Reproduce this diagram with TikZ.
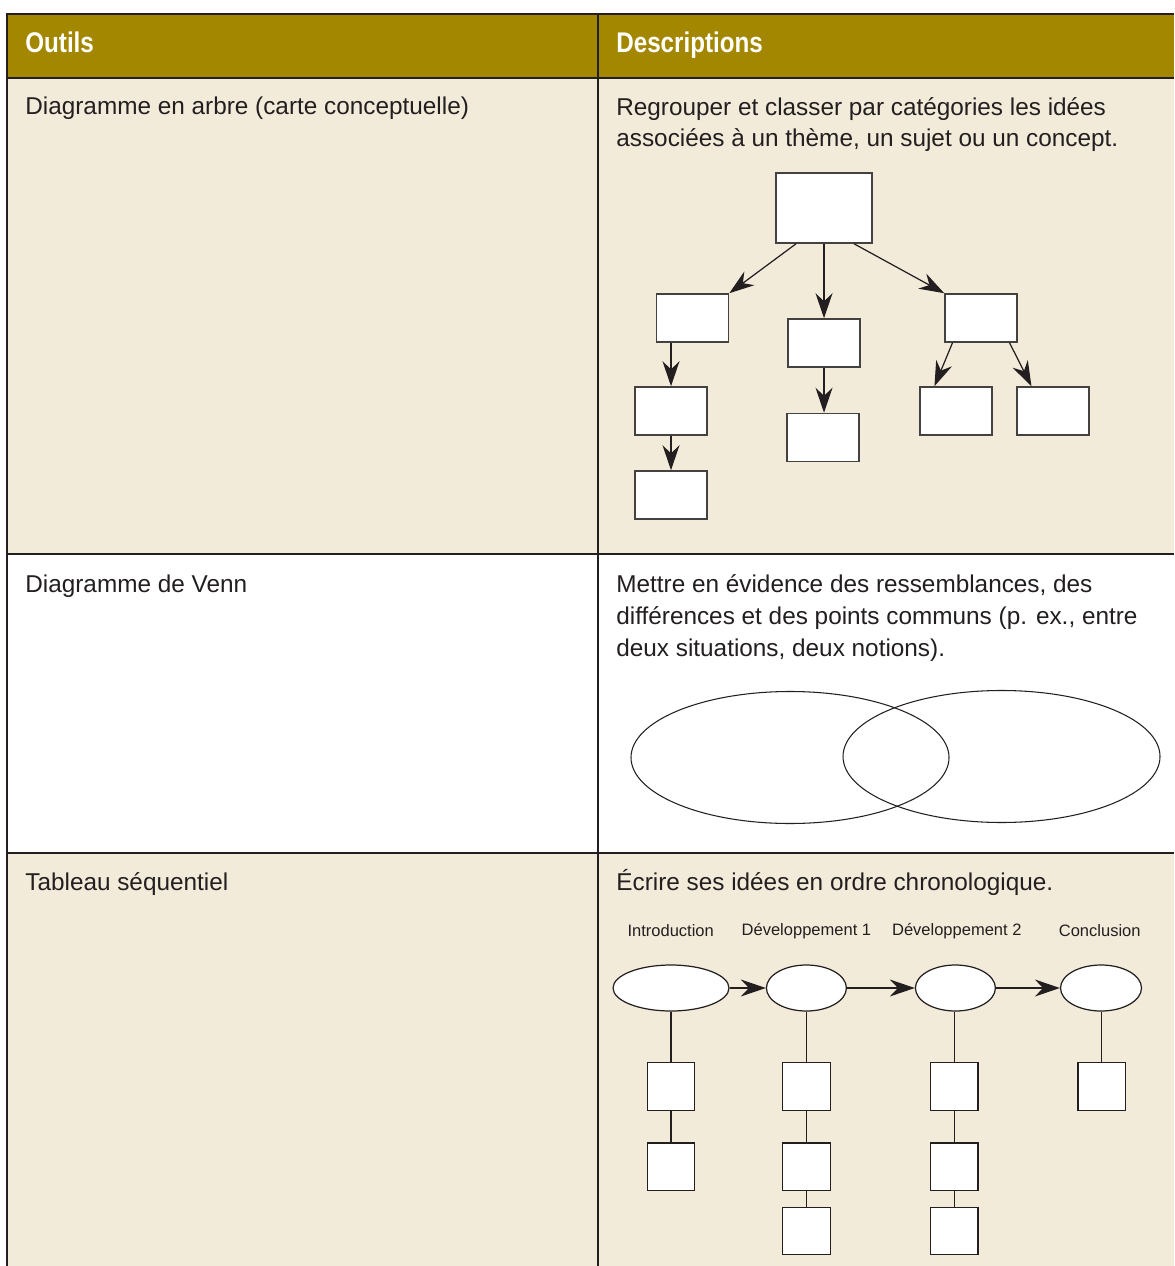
\documentclass[tikz,border=0pt]{standalone}
\usepackage{fontspec}
\setmainfont{Liberation Sans}
\newfontfamily\headfont{Liberation Sans}[FakeStretch=0.85]
\usetikzlibrary{arrows.meta,shapes.geometric,calc}
\definecolor{headgold}{RGB}{163,135,0}
\definecolor{rowbeige}{RGB}{243,235,218}
\definecolor{inkdark}{RGB}{35,31,32}
\tikzset{
  rowline/.style={draw=inkdark,line width=1.5pt},
  bodytext/.style={anchor=base west,inner sep=0pt,text=inkdark,align=left,font=\fontsize{13.85}{18.2}\selectfont},
  headtext/.style={anchor=base west,inner sep=0pt,text=white,font=\headfont\bfseries\fontsize{16.2}{19}\selectfont},
  treebox/.style={draw=inkdark!85,fill=white,line width=0.9pt,minimum width=1.44cm,minimum height=0.96cm,inner sep=0pt},
  seqbox/.style={draw=inkdark,fill=white,line width=0.7pt,minimum size=0.95cm,inner sep=0pt},
  seqoval/.style={ellipse,draw=inkdark,fill=white,line width=0.7pt,minimum height=0.92cm,minimum width=1.6cm,inner sep=0pt},
  seqlabel/.style={inner sep=0pt,text=inkdark,font=\fontsize{9.4}{11}\selectfont},
  arr/.style={-{Stealth[length=0.5cm,width=0.34cm]},draw=inkdark,line width=0.7pt},
}
\begin{document}
\begin{tikzpicture}[x=0.02cm,y=-0.02cm,line join=miter]
\fill[white] (0,0) rectangle (1174,1266);
\useasboundingbox (0,0) rectangle (1174,1266);
% table
\fill[headgold] (7,14) rectangle (1174,78);
\fill[rowbeige] (7,78) rectangle (1174,554);
\fill[rowbeige] (7,853) rectangle (1174,1266);
\draw[rowline] (1174,14) -- (7,14) -- (7,1266);
\draw[rowline] (598,14) -- (598,1266);
\foreach \y in {78,554,853}
  \draw[rowline] (7,\y) -- (1174,\y);

\node[headtext] (hout) at (25,53) {Outils};
\node[headtext] (hdesc) at (616,53) {Descriptions};

% base anchor = last line
\node[bodytext] (tarbre) at (25,115) {Diagramme en arbre (carte conceptuelle)};
\node[bodytext] (darbre) at (616,147) {Regrouper et classer par catégories les idées\\associées à un thème, un sujet ou un concept.};
\node[bodytext] (tvenn) at (25,592) {Diagramme de Venn};
\node[bodytext] (dvenn) at (616,656) {Mettre en évidence des ressemblances, des\\différences et des points communs (p. ex., entre\\deux situations, deux notions).};
\node[bodytext] (tseq) at (25,890) {Tableau séquentiel};
\node[bodytext] (dseq) at (616,890) {Écrire ses idées en ordre chronologique.};

% arbre
\node[treebox,minimum width=1.92cm,minimum height=1.4cm] (root) at (824,208) {};
\node[treebox] (l2a) at (692.5,318) {};
\node[treebox] (l2b) at (824,343) {};
\node[treebox] (l2c) at (981,318) {};
\node[treebox] (l3a) at (671,411) {};
\node[treebox] (l3b) at (823,437.5) {};
\node[treebox] (l3c) at (956,411) {};
\node[treebox] (l3d) at (1053,411) {};
\node[treebox] (l4a) at (671,495) {};
\draw[arr] (root.232) -- (l2a.north east);
\draw[arr] (root.south) -- (l2b.north);
\draw[arr] (root.310) -- (l2c.north west);
\draw[arr] (l2a.south -| l3a) -- (l3a.north);
\draw[arr] (l2b.south) -- (l2b.south |- l3b.north);
\draw[arr] (l2c.221) -- (l3c.131);
\draw[arr] (l2c.319) -- (l3d.131);
\draw[arr] (l3a.south) -- (l4a.north);

% Venn
\draw[inkdark,line width=0.6pt] (790,757.5) ellipse [x radius=159,y radius=66];
\draw[inkdark,line width=0.6pt] (1001.5,756.5) ellipse [x radius=158.5,y radius=66];

% sequence
\node[seqlabel] (lintro) at (670.7,931) {Introduction};
\node[seqlabel] (ldev1) at (806.4,931) {Développement 1};
\node[seqlabel] (ldev2) at (956.8,931) {Développement 2};
\node[seqlabel] (lconcl) at (1099.7,931) {Conclusion};

\node[seqoval,minimum width=2.32cm] (e1) at (671,988) {};
\node[seqoval] (e2) at (806.4,988) {};
\node[seqoval] (e3) at (955.4,988) {};
\node[seqoval,minimum width=1.62cm] (e4) at (1101,988) {};
\draw[arr] (e1) -- (e2);
\draw[arr] (e2) -- (e3);
\draw[arr] (e3) -- (e4);

\node[seqbox] (b11) at (671,1086.4) {};
\node[seqbox] (b12) at (671,1166.7) {};
\node[seqbox] (b21) at (806.4,1086.4) {};
\node[seqbox] (b22) at (806.4,1166.7) {};
\node[seqbox] (b23) at (806.4,1231) {};
\node[seqbox] (b31) at (954.3,1086.4) {};
\node[seqbox] (b32) at (954.3,1166.7) {};
\node[seqbox] (b33) at (954.3,1231) {};
\node[seqbox] (b41) at (1101.8,1086.4) {};
\draw[inkdark,line width=0.7pt] (e1.south) -- (b11) -- (b12);
\draw[inkdark,line width=0.7pt] (e2.south) -- (b21) -- (b22) -- (b23);
\draw[inkdark,line width=0.7pt] (e3.south -| b31) -- (b31) -- (b32) -- (b33);
\draw[inkdark,line width=0.7pt] (e4.south -| b41) -- (b41);
\end{tikzpicture}
\end{document}
